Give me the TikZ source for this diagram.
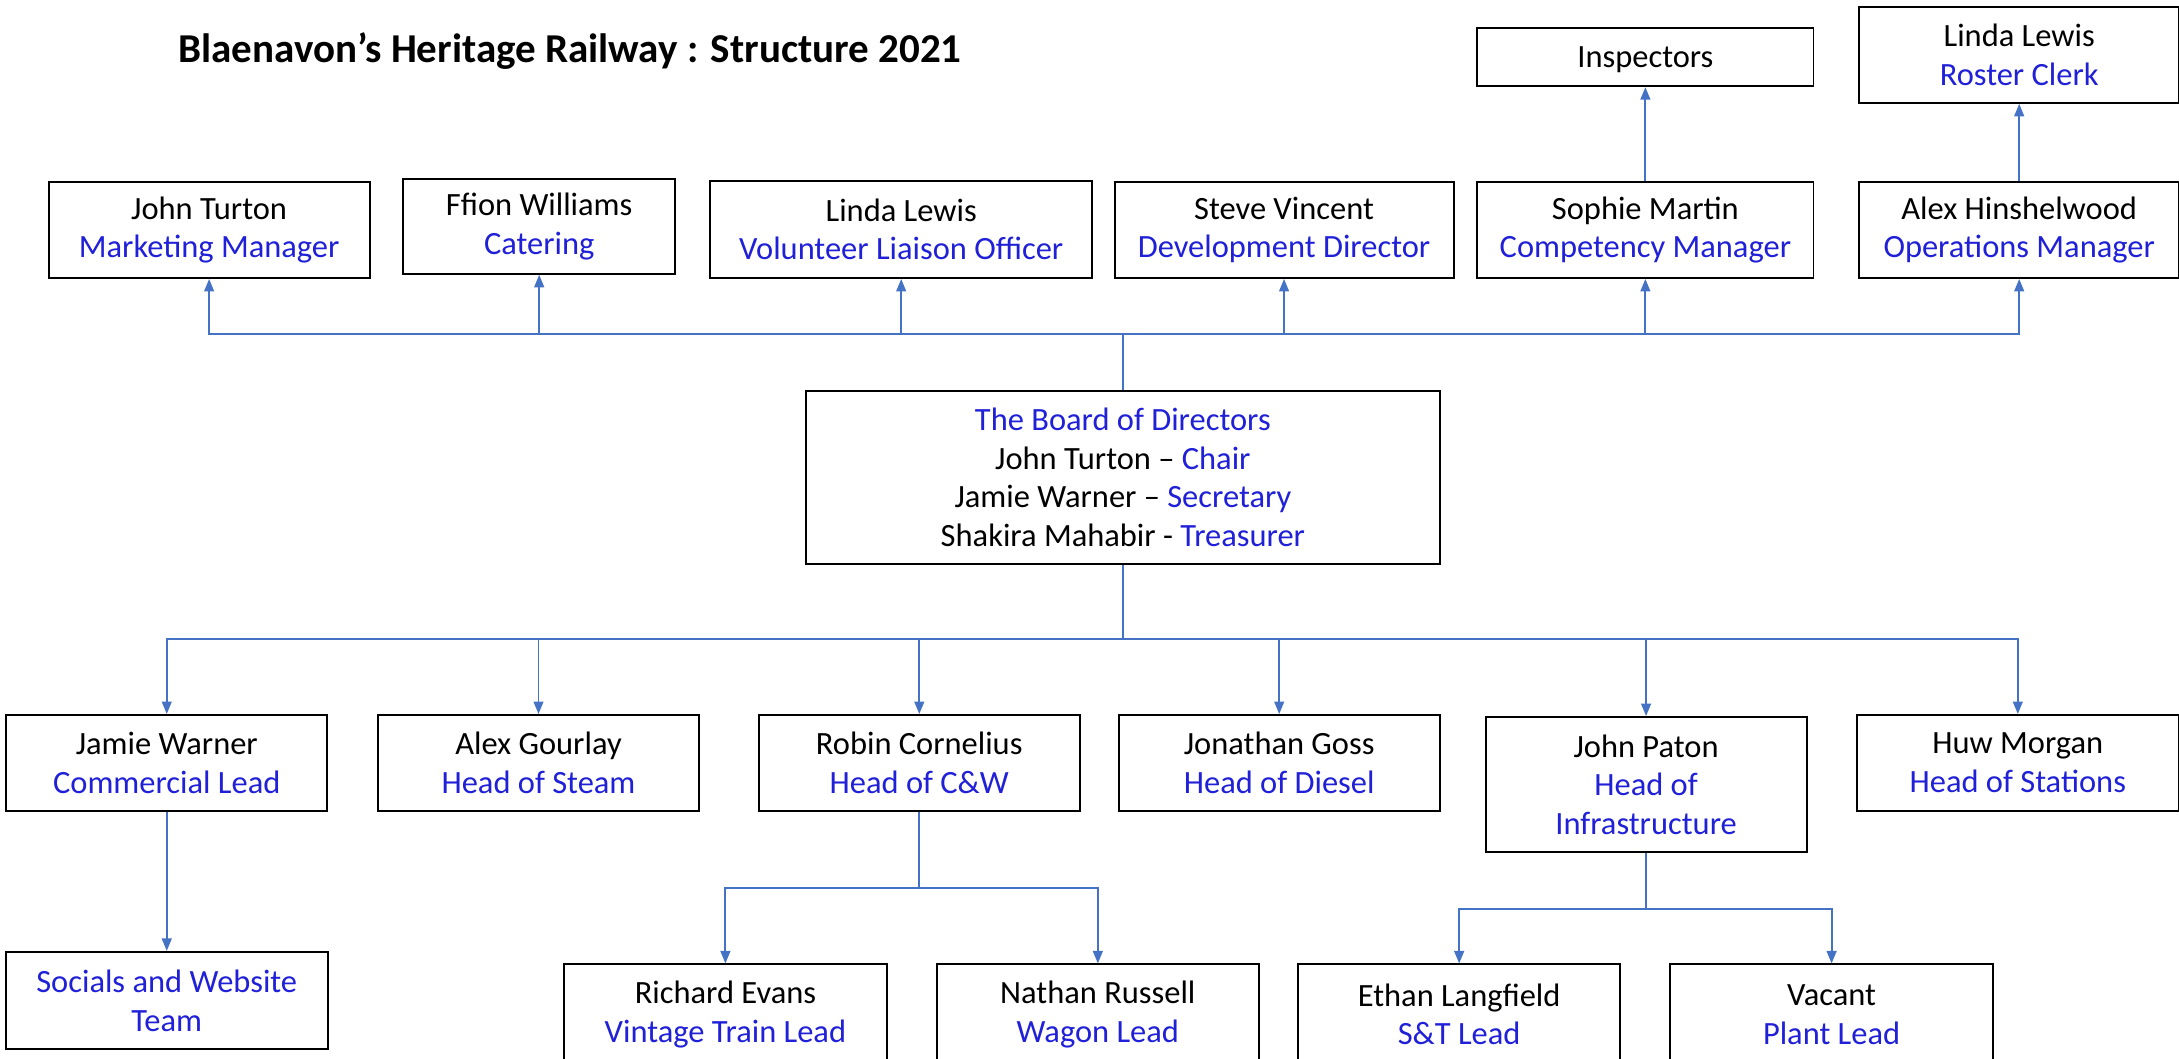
\documentclass[tikz,border=0pt]{standalone}
\usepackage{fontspec}
\setmainfont{Carlito}
\usetikzlibrary{arrows.meta}
\definecolor{rolecol}{RGB}{32,32,216}
\definecolor{linkcol}{RGB}{68,114,196}

\begin{document}
\begin{tikzpicture}[
  x=0.02cm, y=-0.02cm,
  font=\fontsize{13.3}{15.8}\selectfont,
  >={Triangle[length=1.8mm,width=1.4mm]},
  box/.style={draw=black, fill=white, rectangle, align=center,
    minimum width=4.62cm, minimum height=1.38cm,
    inner sep=2pt, line width=0.8pt,
    execute at begin node={\rule{0pt}{11pt}}},
  arrow/.style={->, draw=linkcol, line width=0.8pt},
  title/.style={anchor=west, inner sep=0pt, font=\fontsize{16.8}{19}\selectfont\bfseries}
]
\useasboundingbox (0,0) rectangle (1568,762);

\node[title] (heading) at (128,37) {Blaenavon’s Heritage Railway : Structure 2021};

% Board in the middle
\node[box, minimum width=9.12cm, minimum height=2.5cm] (board) at (808,343.5)
  {\textcolor{rolecol}{The Board of Directors}\\John Turton – \textcolor{rolecol}{Chair}\\
   Jamie Warner – \textcolor{rolecol}{Secretary}\\Shakira Mahabir - \textcolor{rolecol}{Treasurer}};

% Upper row
\node[box] (turton) at (150.5,165.5) {John Turton\\\textcolor{rolecol}{Marketing Manager}};
\node[box, minimum width=3.92cm, minimum height=1.36cm] (ffion) at (388,163) {Ffion Williams\\\textcolor{rolecol}{Catering}};
\node[box, minimum width=5.5cm, minimum height=1.4cm] (liaison) at (648.5,165) {Linda Lewis\\\textcolor{rolecol}{Volunteer Liaison Officer}};
\node[box, minimum width=4.88cm] (vincent) at (924,165.5) {Steve Vincent\\\textcolor{rolecol}{Development Director}};
\node[box, minimum width=4.84cm] (martin) at (1184,165.5) {Sophie Martin\\\textcolor{rolecol}{Competency Manager}};
\node[box, minimum width=4.6cm] (hinshelwood) at (1453,165.5) {Alex Hinshelwood\\\textcolor{rolecol}{Operations Manager}};
\node[box, minimum width=4.84cm, minimum height=0.84cm] (inspectors) at (1184,41) {Inspectors};
\node[box, minimum width=4.6cm] (roster) at (1453,39.5) {Linda Lewis\\\textcolor{rolecol}{Roster Clerk}};

\coordinate (topbus) at (808,240);
\draw[arrow] (board.north) -- (topbus) -| (turton.south);
\draw[arrow] (board.north) -- (topbus) -| (ffion.south);
\draw[arrow] (board.north) -- (topbus) -| (liaison.south);
\draw[arrow] (board.north) -- (topbus) -| (vincent.south);
\draw[arrow] (board.north) -- (topbus) -| (martin.south);
\draw[arrow] (board.north) -- (topbus) -| (hinshelwood.south);
\draw[arrow] (martin.north) -- (inspectors.south);
\draw[arrow] (hinshelwood.north) -- (roster.south);

% Lower row
\node[box] (warner) at (120,549) {Jamie Warner\\\textcolor{rolecol}{Commercial Lead}};
\node[box] (gourlay) at (387.5,549) {Alex Gourlay\\\textcolor{rolecol}{Head of Steam}};
\node[box] (cornelius) at (661.5,549) {Robin Cornelius\\\textcolor{rolecol}{Head of C\&W}};
\node[box] (goss) at (920.5,549) {Jonathan Goss\\\textcolor{rolecol}{Head of Diesel}};
\node[box, minimum height=1.94cm] (paton) at (1184.5,564.5) {John Paton\\\textcolor{rolecol}{Head of}\\\textcolor{rolecol}{Infrastructure}};
\node[box, minimum width=4.64cm] (morgan) at (1452,549) {Huw Morgan\\\textcolor{rolecol}{Head of Stations}};

\coordinate (lowbus) at (808,460);
\draw[arrow] (board.south) -- (lowbus) -| (warner.north);
\draw[arrow] (board.south) -- (lowbus) -| (gourlay.north);
\draw[arrow] (board.south) -- (lowbus) -| (cornelius.north);
\draw[arrow] (board.south) -- (lowbus) -| (goss.north);
\draw[arrow] (board.south) -- (lowbus) -| (paton.north);
\draw[arrow] (board.south) -- (lowbus) -| (morgan.north);

% Teams below the heads
\node[box, minimum width=4.64cm, minimum height=1.4cm] (socials) at (120,720) {\textcolor{rolecol}{Socials and Website}\\\textcolor{rolecol}{Team}};
\node[box, minimum width=4.64cm, minimum height=1.44cm] (evans) at (522,730) {Richard Evans\\\textcolor{rolecol}{Vintage Train Lead}};
\node[box, minimum width=4.64cm, minimum height=1.44cm] (russell) at (790,730) {Nathan Russell\\\textcolor{rolecol}{Wagon Lead}};
\node[box, minimum width=4.64cm, minimum height=1.44cm] (langfield) at (1050,730) {Ethan Langfield\\\textcolor{rolecol}{S\&T Lead}};
\node[box, minimum width=4.64cm, minimum height=1.44cm] (vacant) at (1318,730) {Vacant\\\textcolor{rolecol}{Plant Lead}};

\draw[arrow] (warner.south) -- (socials.north);
\coordinate (cwbus) at (661.5,639);
\draw[arrow] (cornelius.south) -- (cwbus) -| (evans.north);
\draw[arrow] (cornelius.south) -- (cwbus) -| (russell.north);
\coordinate (infrabus) at (1184.5,654);
\draw[arrow] (paton.south) -- (infrabus) -| (langfield.north);
\draw[arrow] (paton.south) -- (infrabus) -| (vacant.north);

\end{tikzpicture}
\end{document}
